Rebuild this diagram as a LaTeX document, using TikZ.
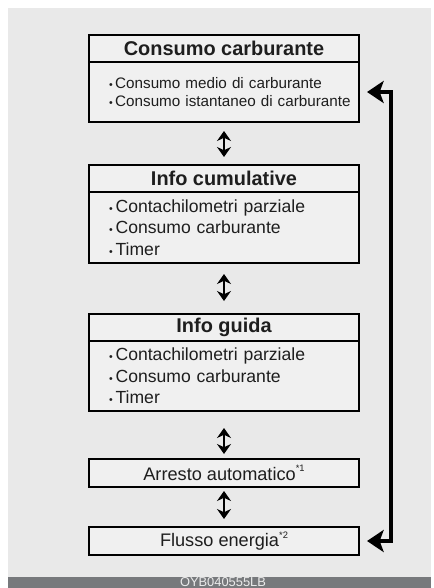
\documentclass[tikz,border=0pt]{standalone}
\usepackage{fontspec}
\setmainfont{Liberation Sans}
\usepackage{xcolor}
\usetikzlibrary{arrows.meta, positioning}
\definecolor{panel}{RGB}{233,233,233}
\definecolor{boxbg}{RGB}{240,240,240}
\definecolor{bar}{RGB}{119,121,124}
\definecolor{ink}{RGB}{30,30,30}
\tikzstyle{tbox}=[rectangle, draw=black, line width=1.7pt, fill=boxbg,
  font=\fontsize{17}{20}\selectfont\bfseries, text=ink, text centered,
  minimum width=8.1cm, minimum height=0.81cm, inner sep=0pt]
\tikzstyle{lbox}=[rectangle, draw=black, line width=1.7pt, fill=boxbg,
  font=\fontsize{15}{18.4}\selectfont, text=ink, align=left,
  minimum width=8.1cm, inner xsep=0.6cm, text width=6.9cm]
\tikzstyle{dblarr}=[{Stealth[length=0.3cm, width=0.42cm]}-{Stealth[length=0.3cm, width=0.42cm]}, line width=2.5pt]
\tikzstyle{looparr}=[{Stealth[length=0.5cm, width=0.66cm, inset=0.12cm]}-{Stealth[length=0.5cm, width=0.66cm, inset=0.12cm]}, line width=3.6pt]
\newcommand{\itm}[1]{\mbox{{\fontsize{9}{9}\selectfont\textbullet}\,#1}}
\newcommand{\sref}[1]{\raisebox{0.9ex}{\fontsize{8}{8}\selectfont *#1}}

\begin{document}
\begin{tikzpicture}
    \useasboundingbox (0,0) rectangle (12.99,-17.64);
    \fill[panel] (0.24,-0.24) rectangle (12.93,-17.31);
    \fill[bar] (0.24,-17.31) rectangle (12.93,-17.64);
    \node[anchor=base, text=white!92!black, font=\fontsize{11}{12}\selectfont,
      inner sep=0pt] (code) at (6.69,-17.6) {OYB040555LB};
    % boxes
    \node[tbox] (cc) at (6.72,-1.455) {Consumo carburante};
    \node[lbox, minimum height=1.8cm, font=\fontsize{13}{15.4}\selectfont]
      (cclist) at (6.72,-2.76) {\itm{Consumo medio di carburante}\\
      \itm{Consumo istantaneo di carburante}};
    \node[tbox] (ci) at (6.72,-5.355) {Info cumulative};
    \node[lbox, minimum height=2.13cm]
      (cilist) at (6.72,-6.825) {\itm{Contachilometri parziale}\\
      \itm{Consumo carburante}\\ \itm{Timer}};
    \node[tbox] (ig) at (6.72,-9.825) {Info guida};
    \node[lbox, minimum height=2.1cm]
      (iglist) at (6.72,-11.28) {\itm{Contachilometri parziale}\\
      \itm{Consumo carburante}\\ \itm{Timer}};
    \node[tbox, minimum height=0.84cm, font=\fontsize{15.5}{18}\selectfont]
      (aa) at (6.72,-14.19) {Arresto automatico\sref{1}};
    \node[tbox, minimum height=0.84cm, font=\fontsize{15.5}{18}\selectfont]
      (fe) at (6.72,-16.23) {Flusso energia\sref{2}};
    % arrows
    \draw[dblarr, shorten <=0.24cm, shorten >=0.21cm] (cclist) -- (ci);
    \draw[dblarr, shorten <=0.3cm, shorten >=0.36cm] (cilist) -- (ig);
    \draw[dblarr, shorten <=0.48cm, shorten >=0.12cm] (iglist) -- (aa);
    \draw[dblarr, shorten <=0.09cm, shorten >=0.21cm] (aa) -- (fe);
    \coordinate (loop) at (11.73,0);
    \draw[looparr, shorten <=0.21cm, shorten >=0.21cm]
      (cclist.east) -- (cclist.east -| loop) -- (fe.east -| loop) -- (fe.east);
  \end{tikzpicture}
\end{document}
